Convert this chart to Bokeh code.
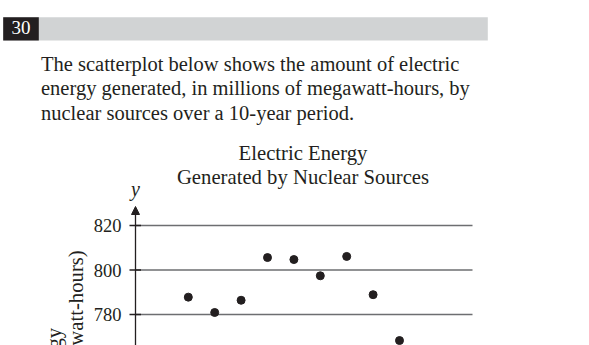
import math
from bokeh.plotting import figure
from bokeh.models import Range1d, BoxAnnotation, Arrow, NormalHead, ColumnDataSource
from bokeh.core.properties import value
from bokeh.embed import file_html
from bokeh.resources import INLINE

# ---- data ----
year = [2, 3, 4, 5, 6, 7, 8, 9, 10]
energy = [787.8, 780.9, 786.4, 805.6, 804.7, 797.4, 806.1, 788.9, 768.3]
y_ticks = [780, 800, 820]
y_tick_labels = ["780", "800", "820"]

question_number = "30"
question_lines = [
    "The scatterplot below shows the amount of electric",
    "energy generated, in millions of megawatt-hours, by",
    "nuclear sources over a 10-year period.",
]
title_lines = ["Electric Energy", "Generated by Nuclear Sources"]
y_label_lines = ["Energy", "(millions of megawatt-hours)"]

# ---- layout helpers: pixel -> data ----
W, H = 589, 345
AX_PX, PX_PER_X = 135.0, 26.4
Y_REF_PX, Y_REF, PX_PER_Y = 225.0, 820.0, 2.225


def X(px):
    return (px - AX_PX) / PX_PER_X


def Y(py):
    return Y_REF - (py - Y_REF_PX) / PX_PER_Y


def mid(baseline_px, size):
    # vertical centre of a text line whose baseline sits at baseline_px
    return baseline_px - 0.34 * size


FONT = value("Liberation Serif")
INK = "#231f20"

p = figure(width=W, height=H, output_backend="svg", toolbar_location=None,
           x_range=Range1d(X(0), X(W)), y_range=Range1d(Y(H), Y(0)),
           x_axis_location=None, y_axis_location=None, min_border=0,
           outline_line_color=None, background_fill_color="white",
           border_fill_color="white")
p.grid.visible = False

# header bar
p.add_layout(BoxAnnotation(left=X(2.7), right=X(487.3), top=Y(16.7), bottom=Y(40),
                           fill_color="#d1d3d4", fill_alpha=1, line_color=None,
                           level="underlay"))
p.add_layout(BoxAnnotation(left=X(2.7), right=X(38.3), top=Y(16.7), bottom=Y(40),
                           fill_color=INK, fill_alpha=1, line_color=None,
                           level="underlay"))
p.text(x=[X(20.5)], y=[Y(mid(33.5, 19))], text=[question_number], text_color="white",
       text_font=FONT, text_font_size="19px", text_align="center",
       text_baseline="middle")

# question text
QS = 20.5
p.text(x=[X(40.5)] * 3, y=[Y(mid(b, QS)) for b in (70, 94.8, 119.8)], text=question_lines,
       text_color=INK, text_font=FONT, text_font_size=f"{QS}px", text_align="left",
       text_baseline="middle")

# chart title
TS = 20.7
p.text(x=[X(302.5)] * 2, y=[Y(mid(160, TS)), Y(mid(183.3, TS))], text=title_lines,
       text_color=INK, text_font=FONT, text_font_size=f"{TS}px", text_align="center",
       text_baseline="middle")

# y-axis title (rotated 90 degrees, runs off the bottom)
p.text(x=[X(53), X(75.5)], y=[Y(357), Y(371)], text=y_label_lines,
       text_color=INK, text_font=FONT, text_font_size=f"{TS}px", text_align="center",
       text_baseline="middle", angle=math.pi / 2)

# horizontal grid lines
grid_end = X(472)
p.segment(x0=[0] * len(y_ticks), x1=[grid_end] * len(y_ticks), y0=y_ticks, y1=y_ticks,
          line_color="#6d6e71", line_width=1.4)

# y axis with arrow
p.add_layout(Arrow(x_start=0, y_start=Y(H + 10), x_end=0, y_end=Y(206),
                   line_color=INK, line_width=1.3,
                   end=NormalHead(size=8, fill_color=INK, line_color=INK, line_width=1)))
p.text(x=[0], y=[Y(mid(195.5, 20))], text=["y"], text_color=INK, text_font=FONT,
       text_font_style="italic", text_font_size="20px", text_align="center",
       text_baseline="middle")

# ticks and tick labels
tick_src = ColumnDataSource(dict(y=y_ticks, label=y_tick_labels))
p.segment(x0=X(129), x1=X(140.5), y0="y", y1="y", source=tick_src,
          line_color=INK, line_width=1.3)
p.text(x=X(121), y="y", text="label", source=tick_src, text_color=INK,
       text_font=FONT, text_font_size="18.5px", text_align="right",
       text_baseline="middle")

# data points
p.scatter(year, energy, size=8, color=INK)

open("out.html", "w").write(file_html(p, INLINE))
